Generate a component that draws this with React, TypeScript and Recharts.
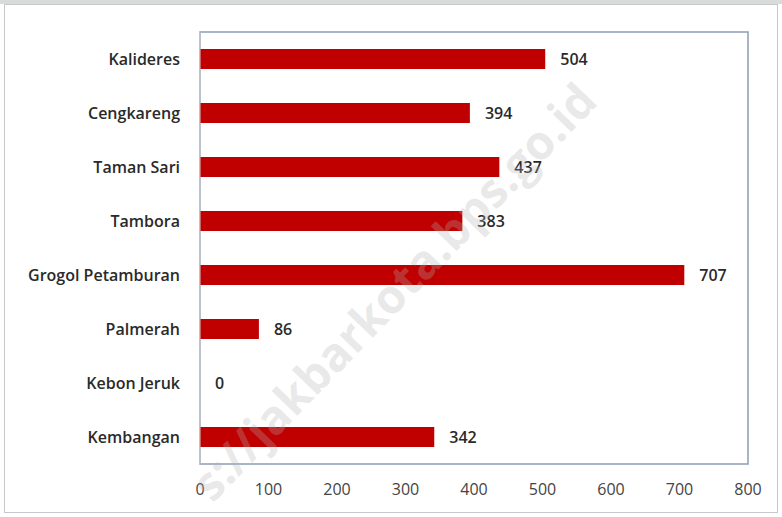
import React from "react";
import { BarChart, Bar, XAxis, YAxis, LabelList, ReferenceArea } from "recharts";

const categories = ["Kalideres", "Cengkareng", "Taman Sari", "Tambora", "Grogol Petamburan", "Palmerah", "Kebon Jeruk", "Kembangan"];
const values = [504, 394, 437, 383, 707, 86, 0, 342];
const xTicks = [0, 100, 200, 300, 400, 500, 600, 700, 800];

const data = categories.map((name, i) => ({ name, value: values[i] }));

const font = "'Open Sans', 'Liberation Sans', sans-serif";

export default function App() {
  return (
    <div style={{ position: "absolute", left: 0, top: 0, width: 782, height: 517, background: "#fff", overflow: "hidden" }}>
      <div style={{ position: "absolute", left: 4, top: 4, width: 774, height: 509, border: "1px solid #c8c8c8", boxSizing: "border-box" }} />
      <div style={{ position: "absolute", left: 0, top: 0, width: 782, height: 4, background: "#d8dcdc" }} />
      <div style={{ position: "absolute", left: 0, top: 0 }}>
        <BarChart width={782} height={517} data={data} layout="vertical" margin={{ top: 32, right: 34, bottom: 23, left: 0 }} barCategoryGap={0}>
          <ReferenceArea x1={0} x2={800} fill="none" stroke="#8c9db4" strokeWidth={1.5} ifOverflow="extendDomain" />
          <XAxis
            type="number"
            domain={[0, 800]}
            ticks={xTicks}
            axisLine={false}
            tickLine={false}
            tickMargin={14}
            height={30}
            tick={{ fontFamily: font, fontSize: 16, fill: "#444" }}
          />
          <YAxis
            type="category"
            dataKey="name"
            width={200}
            axisLine={{ stroke: "#d0d0d0" }}
            tickLine={false}
            tickMargin={14}
            tick={{ fontFamily: font, fontSize: 16, fontWeight: 600, fill: "#2a2a2a" }}
          />
          <Bar dataKey="value" fill="#c00000" barSize={20} minPointSize={0.01} isAnimationActive={false}>
            <LabelList dataKey="value" position="right" offset={15} style={{ fontFamily: font, fontSize: 16, fontWeight: 600, fill: "#2a2a2a" }} />
          </Bar>
        </BarChart>
      </div>
      <div
        style={{
          position: "absolute",
          left: 200,
          top: 468,
          fontFamily: font,
          fontSize: 47,
          fontWeight: 700,
          lineHeight: "47px",
          color: "rgba(180,180,180,0.3)",
          transform: "rotate(-46deg)",
          transformOrigin: "left center",
          whiteSpace: "nowrap",
          pointerEvents: "none",
        }}
      >
        s://jakbarkota.bps.go.id
      </div>
    </div>
  );
}
